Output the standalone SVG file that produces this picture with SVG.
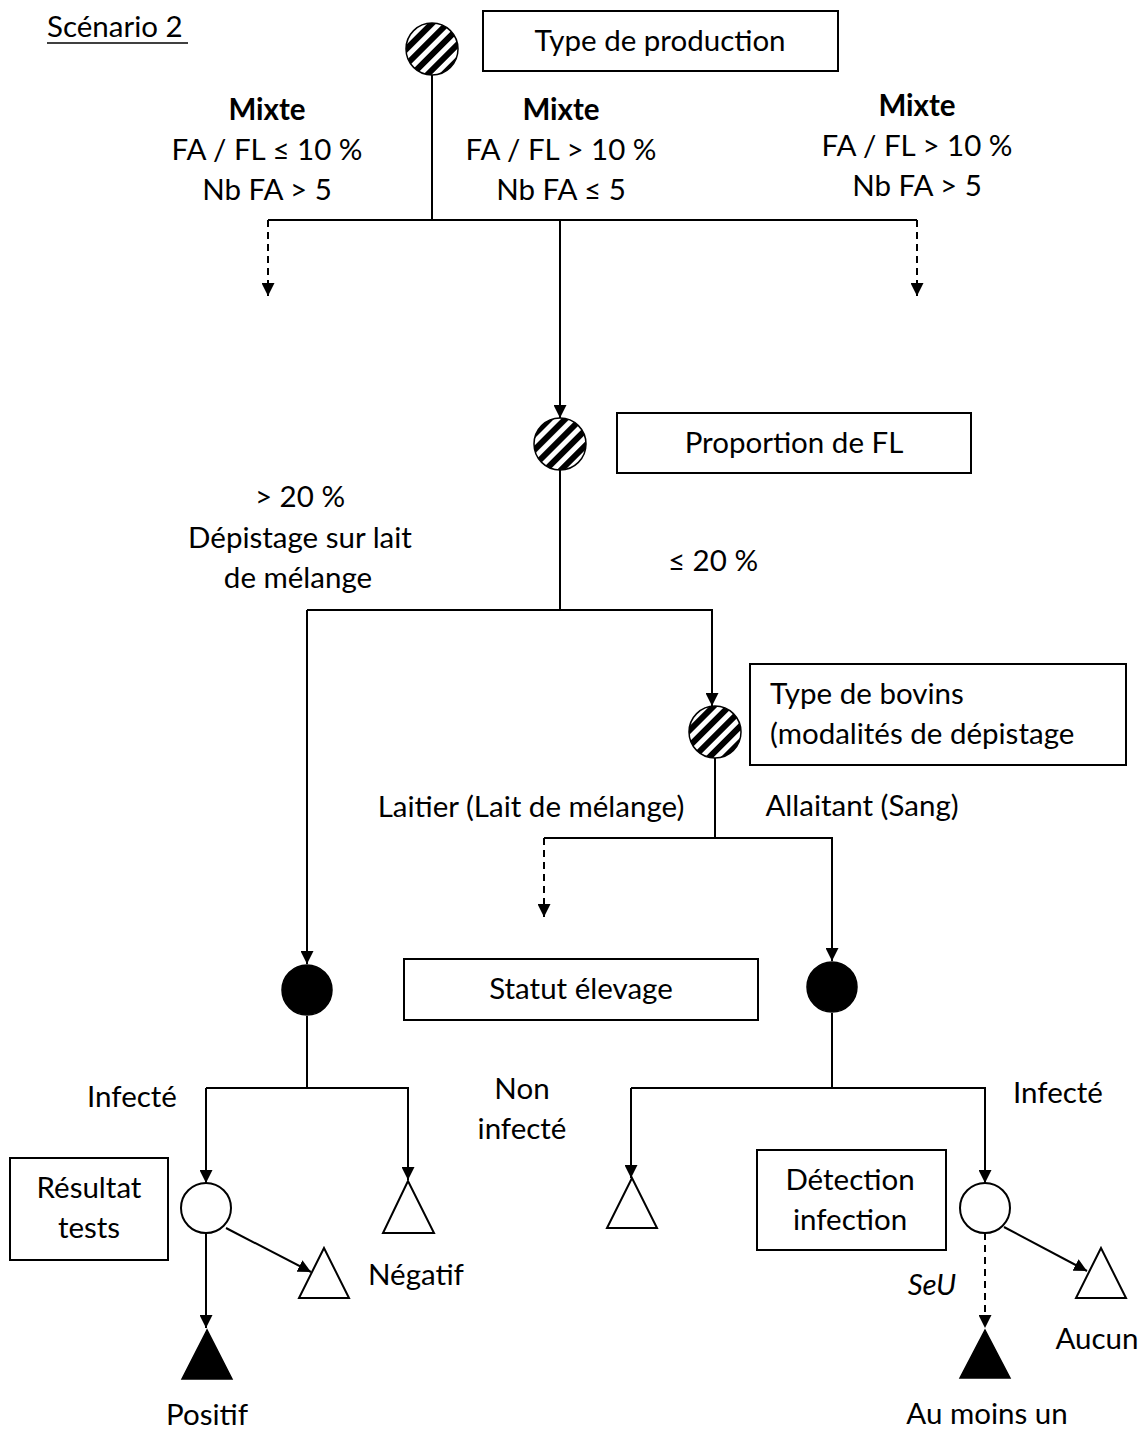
<svg xmlns="http://www.w3.org/2000/svg" width="1143" height="1432" viewBox="0 0 1143 1432">
<style>
text{font-family:Lato,"Open Sans","Liberation Sans",sans-serif;font-size:29.5px;fill:#000;text-anchor:middle}
.b{font-weight:bold}
.l{text-anchor:start}
.i{font-style:italic}
.box{fill:#fff;stroke:#000;stroke-width:2}
.ln{fill:none;stroke:#000;stroke-width:2}
.da{stroke-dasharray:7,5}
.hat{fill:url(#hatch);stroke:#000;stroke-width:1.5}
.blk{fill:#000;stroke:#000;stroke-width:1.5}
.wht{fill:#fff;stroke:#000;stroke-width:2}
</style>
<defs>
<pattern id="hatch" patternUnits="userSpaceOnUse" width="11" height="11" patternTransform="rotate(-45)">
<rect width="11" height="11" fill="#fff"/>
<rect width="11" height="6" fill="#000"/>
</pattern>
<marker id="ar" viewBox="0 0 10 10" refX="10" refY="5" markerWidth="13" markerHeight="13" markerUnits="userSpaceOnUse" orient="auto">
<path d="M0,0 L10,5 L0,10 Z" fill="#000"/>
</marker>
</defs>
<rect width="1143" height="1432" fill="#fff"/>
<g id="title">
<text class="l" x="47" y="37">Scénario 2</text>
<line x1="47" y1="43" x2="188" y2="43" stroke="#000" stroke-width="1.5"/>
</g>
<g id="connectors">
<path class="ln" d="M432,75 V220"/>
<path class="ln" d="M268,220 H917"/>
<path class="ln da" d="M268,220 V296" marker-end="url(#ar)"/>
<path class="ln da" d="M917,220 V296" marker-end="url(#ar)"/>
<path class="ln" d="M560,220 V418" marker-end="url(#ar)"/>
<path class="ln" d="M560,470 V610"/>
<path class="ln" d="M307,610 H712 V706" marker-end="url(#ar)"/>
<path class="ln" d="M307,610 V964" marker-end="url(#ar)"/>
<path class="ln" d="M715,758 V838"/>
<path class="ln" d="M544,838 H832 V961" marker-end="url(#ar)"/>
<path class="ln da" d="M544,838 V917" marker-end="url(#ar)"/>
<path class="ln" d="M307,1016 V1088"/>
<path class="ln" d="M206,1088 H408 V1180" marker-end="url(#ar)"/>
<path class="ln" d="M206,1088 V1183" marker-end="url(#ar)"/>
<path class="ln" d="M206,1233 V1328" marker-end="url(#ar)"/>
<path class="ln" d="M226,1228 L311,1272" marker-end="url(#ar)"/>
<path class="ln" d="M832,1013 V1088"/>
<path class="ln" d="M631,1088 H985 V1183" marker-end="url(#ar)"/>
<path class="ln" d="M631,1088 V1178" marker-end="url(#ar)"/>
<path class="ln da" d="M985,1233 V1328" marker-end="url(#ar)"/>
<path class="ln" d="M1004,1227 L1087,1271" marker-end="url(#ar)"/>
</g>
<g id="n-production">
<circle class="hat" cx="432" cy="49" r="26"/>
<rect class="box" x="483" y="11" width="355" height="60"/>
<text x="660" y="51">Type de production</text>
</g>
<g id="labels-production">
<text class="b" x="267" y="120">Mixte</text>
<text x="267" y="160">FA / FL ≤ 10 %</text>
<text x="267" y="200">Nb FA &gt; 5</text>
<text class="b" x="561" y="120">Mixte</text>
<text x="561" y="160">FA / FL &gt; 10 %</text>
<text x="561" y="200">Nb FA ≤ 5</text>
<text class="b" x="917" y="116">Mixte</text>
<text x="917" y="156">FA / FL &gt; 10 %</text>
<text x="917" y="196">Nb FA &gt; 5</text>
</g>
<g id="n-proportion">
<circle class="hat" cx="560" cy="444" r="26"/>
<rect class="box" x="617" y="413" width="354" height="60"/>
<text x="794" y="453">Proportion  de FL</text>
</g>
<g id="labels-proportion">
<text x="300" y="507">&gt; 20 %</text>
<text x="300" y="548">Dépistage sur lait</text>
<text x="298" y="588">de mélange</text>
<text x="713" y="571">≤ 20 %</text>
</g>
<g id="n-bovins">
<circle class="hat" cx="715" cy="732" r="26"/>
<rect class="box" x="750" y="664" width="376" height="101"/>
<text class="l" x="770" y="704">Type de bovins</text>
<text class="l" x="770" y="744">(modalités de dépistage</text>
</g>
<g id="labels-bovins">
<text x="531" y="817">Laitier (Lait de mélange)</text>
<text x="862" y="816">Allaitant (Sang)</text>
</g>
<g id="n-statut">
<circle class="blk" cx="307" cy="990" r="25"/>
<circle class="blk" cx="832" cy="987" r="25"/>
<rect class="box" x="404" y="959" width="354" height="61"/>
<text x="581" y="999">Statut élevage</text>
</g>
<g id="labels-statut">
<text x="132" y="1107">Infecté</text>
<text x="522" y="1099">Non</text>
<text x="522" y="1139">infecté</text>
<text x="1058" y="1103">Infecté</text>
</g>
<g id="n-left-tests">
<rect class="box" x="10" y="1158" width="158" height="102"/>
<text x="89" y="1198">Résultat</text>
<text x="89" y="1238">tests</text>
<circle class="wht" cx="206" cy="1208" r="25"/>
<polygon class="wht" points="408,1181 383,1233 434,1233"/>
<polygon class="wht" points="324,1248 299,1298 349,1298"/>
<polygon class="blk" points="207,1330 182,1379 232,1379"/>
<text class="l" x="368" y="1285">Négatif</text>
<text x="207" y="1425">Positif</text>
</g>
<g id="n-right-detection">
<polygon class="wht" points="632,1178 607,1228 657,1228"/>
<rect class="box" x="757" y="1150" width="189" height="100"/>
<text x="850" y="1190">Détection</text>
<text x="850" y="1230">infection</text>
<circle class="wht" cx="985" cy="1208" r="25"/>
<polygon class="blk" points="985,1330 960,1378 1010,1378"/>
<polygon class="wht" points="1101,1248 1076,1298 1126,1298"/>
<text class="i" x="932" y="1295">SeU</text>
<text x="987" y="1424">Au moins un</text>
<text x="1097" y="1349">Aucun</text>
</g>
</svg>
